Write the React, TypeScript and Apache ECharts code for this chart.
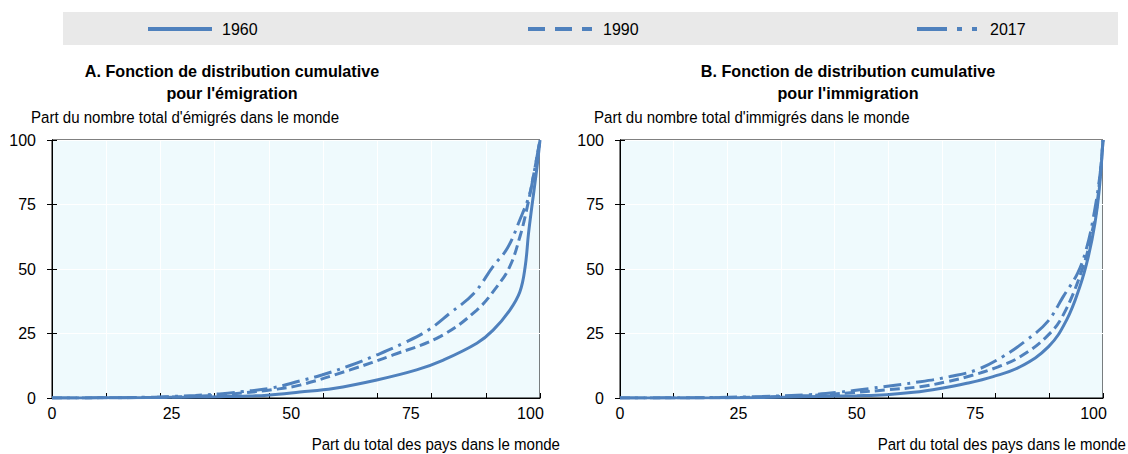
import React, { useEffect, useRef } from "react";
import * as echarts from "echarts";

const FONT = '"Liberation Sans", Arial, sans-serif';
const BLUE = "#4F81BD";
const PLOT_BG = "#EFFAFD";

const seriesNames = ["1960", "1990", "2017"];
const xTickValues = [0, 25, 50, 75, 100];

// Panel A: emigration (x: share of countries, y: cumulative share of emigrants)
const emi1960X = [0, 10, 20, 25, 30, 35, 40, 45, 51.8, 58.8, 67.9, 76.2, 81.8, 88.8, 92.2, 95.7, 97.8, 98.9, 99.6, 100.3, 101.3, 102];
const emi1960Y = [0, 0.05, 0.15, 0.25, 0.35, 0.5, 0.7, 1.1, 2.3, 3.7, 7, 10.9, 14.7, 21.2, 26.3, 34.1, 41.2, 50.9, 63.8, 74.2, 88.4, 100];
const emi1990X = [0, 10, 20, 25, 30, 35, 40, 46, 51.8, 62.3, 71.3, 81.1, 88.8, 93, 95.7, 97.8, 99.2, 100.6, 102];
const emi1990Y = [0, 0.05, 0.2, 0.4, 0.7, 1.2, 2, 3.2, 5, 10.9, 16.7, 23.8, 34.1, 43.2, 51, 62.5, 72.9, 85.8, 100];
const emi2017X = [0, 10, 20, 25, 30, 35, 40, 46, 51.8, 56.4, 62.3, 67.9, 73.4, 78.7, 83.2, 88.1, 92.2, 95.2, 97.8, 99.8, 100.6, 102];
const emi2017Y = [0, 0.05, 0.3, 0.6, 1, 1.6, 2.5, 3.9, 6.6, 8.9, 12.6, 16.7, 21.2, 26.4, 32.9, 40.4, 51, 58.1, 69.1, 78.8, 85.8, 100];

// Panel B: immigration
const imm1960X = [0, 10, 20, 30, 36, 42.2, 50, 56.3, 62, 67.6, 73, 78.8, 84.5, 90.5, 94.3, 97.1, 98.9, 100.3, 101.2, 102];
const imm1960Y = [0, 0.02, 0.08, 0.2, 0.35, 0.6, 0.9, 1.3, 2.2, 3.7, 5.6, 8.3, 12.1, 19.9, 30.2, 43.1, 54.8, 67.7, 80.6, 100];
const imm1990X = [0, 10, 20, 30, 40, 49.3, 56, 63.4, 69, 74.6, 80, 84.5, 90.1, 93.6, 97.8, 99.6, 100.7, 102];
const imm1990Y = [0, 0.03, 0.1, 0.4, 1, 2.1, 3.1, 4.4, 6.3, 8.9, 12.2, 16, 23.8, 32.2, 50.9, 63.8, 74.2, 100];
const imm2017X = [0, 10, 20, 30, 40, 46, 52.8, 63.4, 69.7, 75.3, 80.8, 85.9, 90.3, 93.6, 96.7, 98.6, 100, 101.4, 102];
const imm2017Y = [0, 0.05, 0.2, 0.6, 1.3, 2.2, 3.7, 6.3, 8.3, 10.9, 16, 22.5, 29.6, 39.3, 48.6, 58.6, 70.3, 87, 100];

const pair = (xs: number[], ys: number[]) => xs.map((x, i) => [x, ys[i]]);

const dashes: any[] = ["solid", [10, 5], [18, 6, 3, 6]];

function lineSeries(name: string, data: number[][], idx: number, axisIdx: number) {
  return {
    name,
    type: "line",
    xAxisIndex: axisIdx,
    yAxisIndex: axisIdx,
    data,
    showSymbol: false,
    symbol: "none",
    smooth: 0.4,
    lineStyle: { color: BLUE, width: 3, type: dashes[idx], cap: "butt" },
    itemStyle: { color: BLUE },
  };
}

function gridAxes(gridIndex: number) {
  const x = [
    {
      gridIndex,
      type: "value",
      position: "bottom",
      min: 0,
      max: 102,
      interval: 25,
      axisLine: { show: true, onZero: false, lineStyle: { color: "#000", width: 1 } },
      axisTick: { show: false },
      splitLine: { show: false },
      axisLabel: {
        color: "#000",
        fontFamily: FONT,
        fontSize: 16,
        margin: 7,
        showMaxLabel: false,
        formatter: (v: number) => (xTickValues.includes(v) ? String(v) : ""),
      },
    },
    {
      gridIndex,
      type: "value",
      position: "bottom",
      min: 0,
      max: 9,
      interval: 1,
      axisLine: { show: false },
      axisTick: { show: true, inside: true, length: 5, lineStyle: { color: "#000" } },
      axisLabel: { show: false },
      splitLine: { show: true, lineStyle: { color: "#FFFFFF", width: 1 } },
    },
  ];
  const y = [
    {
      gridIndex,
      type: "value",
      position: "left",
      min: 0,
      max: 100,
      interval: 25,
      axisLine: { show: true, lineStyle: { color: "#000", width: 1 } },
      axisTick: { show: true, inside: true, length: 5, lineStyle: { color: "#000" } },
      splitLine: { show: true, lineStyle: { color: "#FFFFFF", width: 1 } },
      axisLabel: { color: "#000", fontFamily: FONT, fontSize: 16, margin: 16 },
    },
    {
      gridIndex,
      type: "value",
      position: "right",
      min: 0,
      max: 100,
      interval: 25,
      axisLine: { show: true, lineStyle: { color: "#000", width: 1 } },
      axisTick: { show: true, inside: true, length: 5, lineStyle: { color: "#000" } },
      splitLine: { show: false },
      axisLabel: { show: false },
    },
  ];
  return { x, y };
}

function txt(text: string, x: number, y: number, align: string, opts: any = {}) {
  const size = opts.size || 16;
  return {
    type: "text",
    x,
    y,
    scaleX: opts.sx || 1,
    silent: true,
    style: {
      text,
      fill: "#000",
      font: `${opts.bold ? "bold " : ""}${size}px ${FONT}`,
      fontFamily: FONT,
      fontSize: size,
      fontWeight: opts.bold ? "bold" : "normal",
      align,
      textAlign: align,
      verticalAlign: "middle",
      textVerticalAlign: "middle",
    },
  };
}

function legendLine(x1: number, x2: number, y: number, dash: any) {
  return {
    type: "line",
    silent: true,
    shape: { x1, y1: y, x2, y2: y },
    style: { stroke: BLUE, lineWidth: 4, lineDash: dash === "solid" ? null : dash, lineCap: "butt" },
  };
}

export default function App() {
  const ref = useRef<HTMLDivElement>(null);
  useEffect(() => {
    document.body.style.margin = "0";
    if (!ref.current) return;
    const chart = echarts.init(ref.current, undefined, { renderer: "svg" });
    const a0 = gridAxes(0);
    const a1 = gridAxes(1);
    const gridCommon = { show: true, backgroundColor: PLOT_BG, borderColor: "#000", borderWidth: 1, containLabel: false };
    const legendY = 29;
    const T = { bold: true, size: 17, sx: 0.95 };
    const N = { size: 17, sx: 0.885 };
    const option: any = {
      animation: false,
      grid: [
        { ...gridCommon, left: 52, top: 140, width: 488, height: 258 },
        { ...gridCommon, left: 620, top: 140, width: 483, height: 258 },
      ],
      xAxis: [...a0.x, ...a1.x],
      yAxis: [...a0.y, ...a1.y],
      series: [
        lineSeries(seriesNames[0], pair(emi1960X, emi1960Y), 0, 0),
        lineSeries(seriesNames[1], pair(emi1990X, emi1990Y), 1, 0),
        lineSeries(seriesNames[2], pair(emi2017X, emi2017Y), 2, 0),
        lineSeries(seriesNames[0], pair(imm1960X, imm1960Y), 0, 2),
        lineSeries(seriesNames[1], pair(imm1990X, imm1990Y), 1, 2),
        lineSeries(seriesNames[2], pair(imm2017X, imm2017Y), 2, 2),
      ],
      graphic: [
        {
          type: "rect",
          silent: true,
          shape: { x: 63, y: 12, width: 1055, height: 33 },
          style: { fill: "#E9E9E9" },
        },
        legendLine(148, 212, legendY, dashes[0]),
        txt(seriesNames[0], 222, legendY, "left"),
        legendLine(528, 592, legendY, [17, 10]),
        txt(seriesNames[1], 603, legendY, "left"),
        legendLine(917, 978, legendY, [30, 10, 5, 10, 5, 40]),
        txt(seriesNames[2], 990, legendY, "left"),
        txt("A. Fonction de distribution cumulative", 232, 71, "center", T),
        txt("pour l'émigration", 232, 93, "center", T),
        txt("B. Fonction de distribution cumulative", 848, 71, "center", T),
        txt("pour l'immigration", 848, 93, "center", T),
        txt("Part du nombre total d'émigrés dans le monde", 31, 117, "left", N),
        txt("Part du nombre total d'immigrés dans le monde", 594, 117, "left", N),
        txt("Part du total des pays dans le monde", 560, 444, "right", N),
        txt("Part du total des pays dans le monde", 1126, 444, "right", N),
      ],
    };
    chart.setOption(option);
    return () => chart.dispose();
  }, []);
  return <div ref={ref} style={{ width: 1128, height: 454 }} />;
}
